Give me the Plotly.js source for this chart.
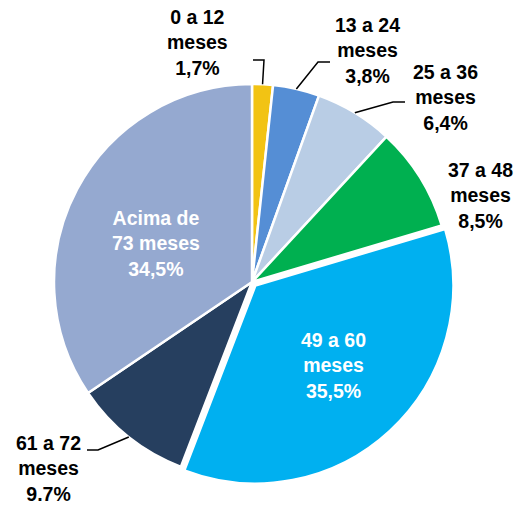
<!DOCTYPE html>
<html>
<head>
<meta charset="utf-8">
<script src="https://cdn.plot.ly/plotly-3.0.1.min.js"></script>
<style>html,body{margin:0;padding:0;background:#fff;}#chart{width:521px;height:508px;}</style>
</head>
<body>
<div id="chart"></div>
<script>
var categories = ['0 a 12 meses', '13 a 24 meses', '25 a 36 meses', '37 a 48 meses', '49 a 60 meses', '61 a 72 meses', 'Acima de 73 meses'];
var labelLines = ['0 a 12<br>meses', '13 a 24<br>meses', '25 a 36<br>meses', '37 a 48<br>meses', '49 a 60<br>meses', '61 a 72<br>meses', 'Acima de<br>73 meses'];
var values = [1.7, 3.8, 6.4, 8.5, 35.5, 9.7, 34.5];
var decimalSep = [',', ',', ',', ',', ',', '.', ','];
var colors = ['#F2C314', '#558ED5', '#B9CDE5', '#00B050', '#00B0F0', '#263F5F', '#95A9D0'];
var pulls = [0, 0, 0, 0, 0.025, 0, 0];

var W = 521, H = 508;
var cx = 252, cy = 282, R = 198;
var maxPull = Math.max.apply(null, pulls);
var half = R * (1 + maxPull);

// label block centres (pixels) and whether inside
var labelPos = [[197, 43], [367, 50], [445, 97], [480, 195], [333, 365], [48, 468], [156, 243]];
var inside = [false, false, false, false, true, false, true];
// leader line elbows / ends (pixels) for slices with leader lines
var leaders = {0: [[264, 60], [253, 60]], 1: [[318, 62], [330, 62]], 2: [[393, 102], [405, 102]], 5: [[98, 450], [87, 450]]};

function fmt(v, sep) { return v.toFixed(1).replace('.', sep) + '%'; }
function px(x) { return x / W; }
function py(y) { return 1 - y / H; }

var total = values.reduce(function (a, b) { return a + b; }, 0);
var cum = 0;
var annotations = [];
var shapes = [];
values.forEach(function (v, i) {
  var mid = (cum + v / 2) / total;
  cum += v;
  var ang = mid * 2 * Math.PI; // clockwise from top
  var tipX = cx + R * Math.sin(ang);
  var tipY = cy - R * Math.cos(ang);
  annotations.push({
    xref: 'paper', yref: 'paper',
    x: px(labelPos[i][0]), y: py(labelPos[i][1]),
    xanchor: 'center', yanchor: 'middle',
    text: labelLines[i] + '<br>' + fmt(v, decimalSep[i]),
    showarrow: false,
    align: 'center',
    font: {family: 'Liberation Sans, Arial, sans-serif', size: 19.5, color: inside[i] ? '#FFFFFF' : '#000000', weight: 'bold'}
  });
  if (leaders[i]) {
    var e = leaders[i][0], f = leaders[i][1];
    shapes.push({
      type: 'path', xref: 'paper', yref: 'paper',
      path: 'M ' + px(tipX) + ' ' + py(tipY) + ' L ' + px(e[0]) + ' ' + py(e[1]) + ' L ' + px(f[0]) + ' ' + py(f[1]),
      line: {color: '#000000', width: 1.5}
    });
  }
});

var trace = {
  type: 'pie',
  labels: categories,
  values: values,
  sort: false,
  direction: 'clockwise',
  rotation: 0,
  pull: pulls,
  marker: {colors: colors, line: {color: '#FFFFFF', width: 2.5}},
  textinfo: 'none',
  hoverinfo: 'label+percent',
  domain: {
    x: [(cx - half) / W, (cx + half) / W],
    y: [(H - cy - half) / H, (H - cy + half) / H]
  }
};

var layout = {
  width: W, height: H,
  margin: {l: 0, r: 0, t: 0, b: 0},
  showlegend: false,
  paper_bgcolor: '#FFFFFF',
  annotations: annotations,
  shapes: shapes
};

Plotly.newPlot('chart', [trace], layout, {displayModeBar: false, staticPlot: true});
</script>
</body>
</html>
